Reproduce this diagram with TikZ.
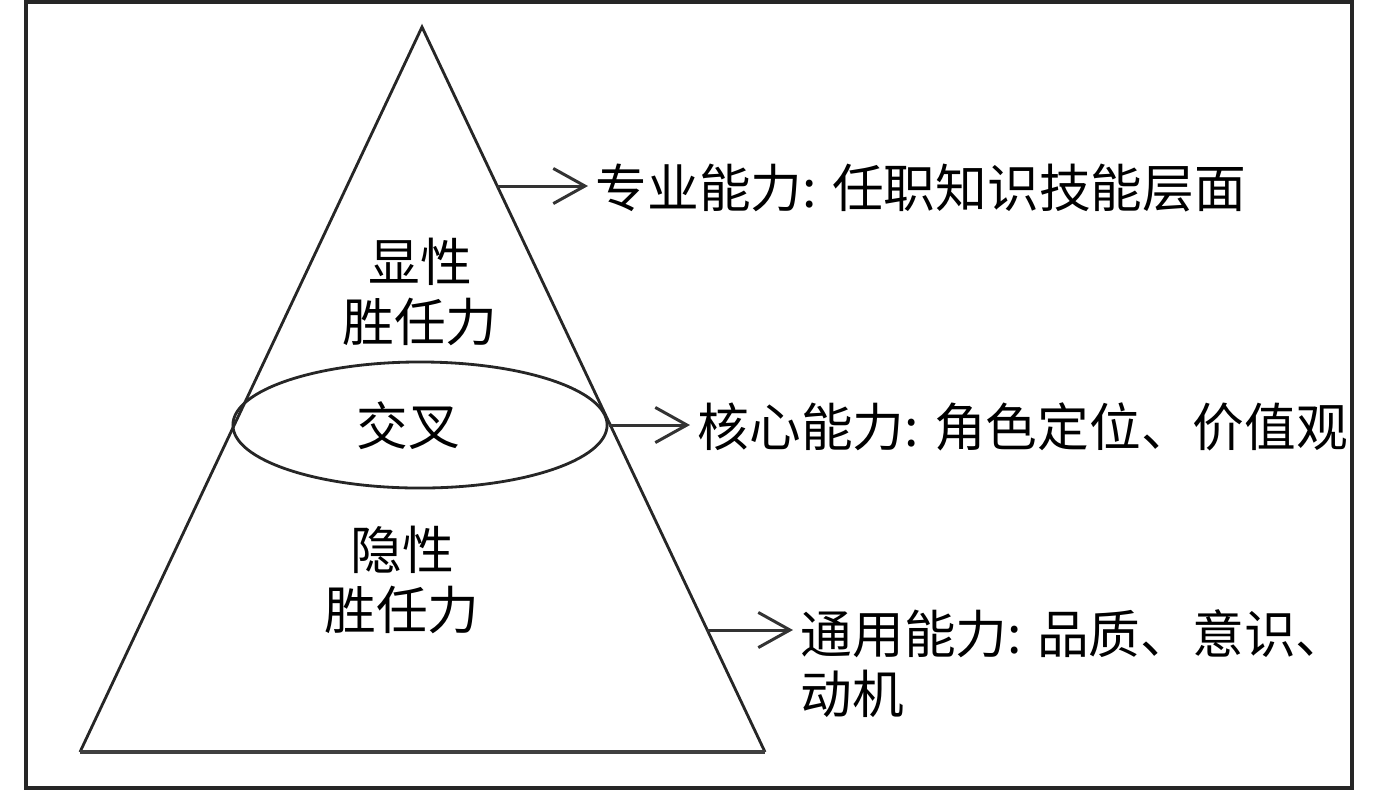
\documentclass[tikz,border=0pt]{standalone}
\usepackage{fontspec}
\newfontfamily\cjk{Noto Sans CJK SC}
\usepackage{tikz}
\usetikzlibrary{positioning}
\usetikzlibrary{calc}
\usetikzlibrary{arrows.meta}
\usetikzlibrary{shapes.geometric}

\begin{document}
\begin{tikzpicture}[x=0.01cm,y=-0.01cm,
  every node/.style={font=\cjk\fontsize{14.7}{17}\selectfont},
  desc/.style={anchor=west,inner sep=2pt,align=left},
  inside/.style={align=center,inner sep=0pt},
  pointer/.style={-{Straight Barb[length=9pt,width=10pt]},line width=0.85pt,draw=black!80}]
\useasboundingbox (0,0) rectangle (1378,790);
\draw[line width=0.9pt,draw=black!85] (26,2) rectangle (1352,788);

% pyramid
\coordinate (top) at (422,27);
\coordinate (bl) at (80,752);
\coordinate (br) at (765,752);
\draw[line width=0.8pt,draw=black!85] (bl)--(top)--(br);
\draw[line width=1.4pt,draw=black!75] (bl)--(br);

\node[inside] (explicit) at (420,292) {显性\\胜任力};
\node[ellipse,draw,line width=0.8pt,draw=black!85,minimum width=3.74cm,minimum height=1.26cm,inner sep=0pt] (cross) at (420,425) {};
\node[inside] (crosstext) at (408,426) {交叉};
\node[inside] (implicit) at (402,580) {隐性\\胜任力};

% labels on the right
\coordinate (e1) at (497,186);
\coordinate (e3) at (707,630);
\node[desc] (prof) at (588,188) {专业能力: 任职知识技能层面};
\node[desc] (core) at (690,427) {核心能力: 角色定位、价值观};
\node[desc,anchor=north west] (gen) at (793,602) {通用能力: 品质、意识、\\动机};

\draw[pointer] (e1) -- (e1 -| prof.west);
\draw[pointer] (cross.east) -- (cross.east -| core.west);
\draw[pointer] (e3) -- (793,630);
\end{tikzpicture}
\end{document}
